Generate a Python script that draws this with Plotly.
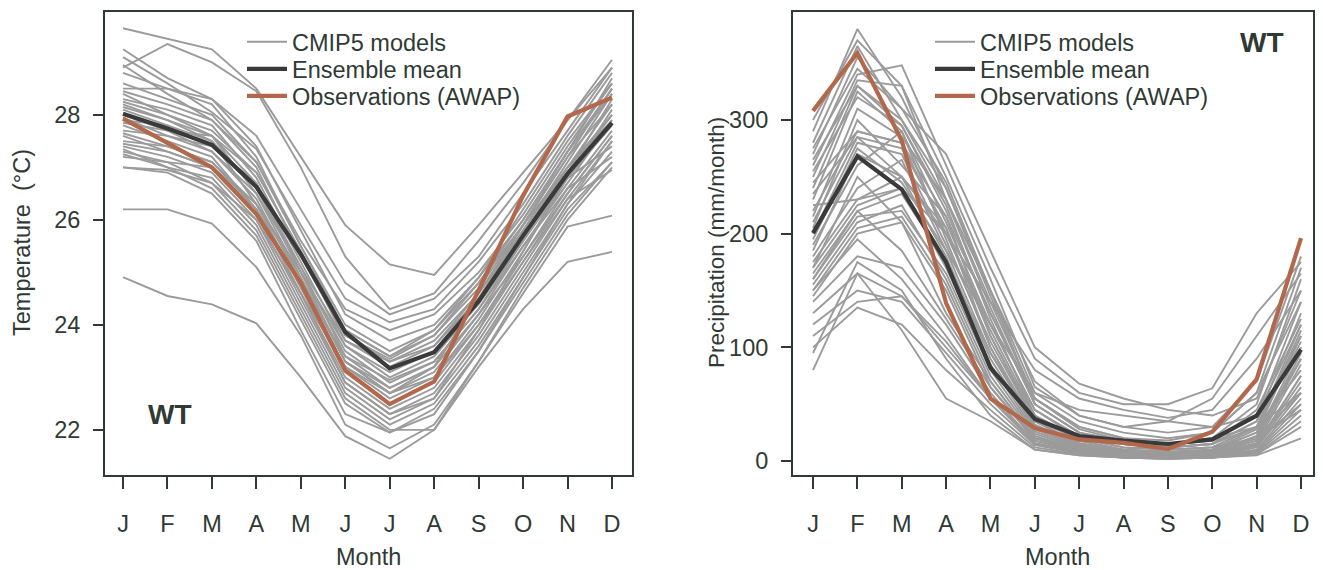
import plotly.graph_objects as go

month_idx = list(range(1, 13))
month_labels = ["J", "F", "M", "A", "M", "J", "J", "A", "S", "O", "N", "D"]

# ---- Temperature (deg C) ----
temp_models = [
    [29.65, 29.45, 29.25, 28.5, 27.2, 25.9, 25.15, 24.95, 25.9, 26.9, 27.9, 28.9],
    [28.9, 29.35, 29.0, 28.45, 27.0, 25.3, 24.3, 24.6, 25.6, 26.7, 27.9, 29.05],
    [29.25, 28.7, 28.3, 27.6, 26.2, 24.8, 24.2, 24.5, 25.3, 26.5, 27.7, 28.9],
    [29.1, 28.6, 28.05, 27.35, 25.9, 24.5, 24.05, 24.3, 25.2, 26.3, 27.6, 28.8],
    [28.95, 28.4, 27.9, 27.1, 25.6, 24.3, 23.9, 24.2, 25.0, 26.1, 27.4, 28.6],
    [28.8, 28.5, 28.3, 27.4, 25.8, 24.2, 23.7, 24.0, 24.9, 26.0, 27.3, 28.7],
    [28.5, 28.5, 28.2, 27.2, 25.5, 24.0, 23.5, 23.9, 24.8, 25.9, 27.2, 28.5],
    [28.45, 28.2, 27.9, 27.0, 25.3, 23.8, 23.3, 23.7, 24.6, 25.8, 27.1, 28.4],
    [28.4, 28.0, 27.7, 26.9, 25.4, 23.7, 23.2, 23.6, 24.5, 25.7, 27.0, 28.2],
    [28.3, 28.1, 27.8, 26.8, 25.2, 23.6, 23.0, 23.4, 24.4, 25.6, 26.9, 28.3],
    [28.2, 27.9, 27.5, 26.6, 25.0, 23.5, 22.9, 23.3, 24.3, 25.6, 26.8, 28.1],
    [28.1, 27.8, 27.4, 26.7, 25.1, 23.4, 22.8, 23.2, 24.5, 25.8, 27.0, 28.0],
    [28.0, 27.7, 27.6, 26.5, 24.9, 23.3, 22.7, 23.1, 24.2, 25.5, 26.7, 27.9],
    [27.95, 27.6, 27.3, 26.4, 24.8, 23.2, 22.6, 23.0, 24.1, 25.4, 26.8, 27.8],
    [27.9, 27.8, 27.5, 26.3, 24.7, 23.1, 22.5, 22.9, 24.0, 25.3, 26.6, 27.7],
    [27.8, 27.5, 27.2, 26.2, 24.6, 23.0, 22.4, 22.8, 23.9, 25.2, 26.5, 27.6],
    [27.7, 27.6, 27.4, 26.6, 25.3, 23.9, 23.4, 23.8, 24.7, 25.9, 27.0, 27.9],
    [27.6, 27.3, 27.0, 26.1, 24.5, 22.9, 22.3, 22.7, 23.8, 25.1, 26.4, 27.5],
    [27.5, 27.4, 27.1, 26.3, 25.0, 23.6, 23.1, 23.5, 24.4, 25.6, 26.8, 27.4],
    [27.4, 27.2, 26.9, 26.0, 24.4, 22.8, 22.2, 22.6, 23.7, 25.0, 26.3, 27.3],
    [27.3, 27.1, 27.0, 26.2, 24.8, 23.4, 22.95, 23.3, 24.3, 25.5, 26.6, 27.2],
    [27.25, 27.0, 26.8, 25.9, 24.3, 22.7, 22.1, 22.5, 23.6, 24.9, 26.2, 27.1],
    [27.2, 27.1, 26.7, 25.8, 24.2, 22.6, 22.0, 22.0, 23.3, 24.7, 26.0, 27.0],
    [27.0, 26.95, 26.7, 26.0, 24.6, 23.2, 22.7, 23.0, 24.0, 25.2, 26.4, 26.95],
    [27.0, 26.9, 26.5, 25.6, 23.9, 22.3, 21.95, 22.4, 23.5, 24.8, 26.1, 27.1],
    [26.2, 26.2, 25.93, 25.1, 23.8, 22.1, 21.65, 22.1, 23.3, 24.6, 25.87, 26.08],
    [24.91, 24.55, 24.39, 24.03, 23.0, 21.88, 21.45, 22.0, 23.2, 24.3, 25.2, 25.39],
    [28.6, 28.3, 28.0, 27.1, 25.5, 23.9, 23.4, 23.9, 24.9, 26.2, 27.5, 28.6],
    [28.25, 28.0, 27.6, 26.7, 25.0, 23.3, 22.7, 23.2, 24.5, 25.9, 27.3, 28.5],
    [27.85, 27.7, 27.3, 26.5, 25.1, 23.7, 23.3, 23.6, 24.6, 25.9, 27.2, 28.2],
    [27.65, 27.4, 27.1, 26.2, 24.6, 22.9, 22.3, 22.6, 23.9, 25.4, 26.9, 28.0],
    [27.45, 27.3, 27.0, 26.3, 24.9, 23.3, 22.8, 23.2, 24.2, 25.3, 26.5, 27.6],
    [28.15, 27.9, 27.6, 26.9, 25.4, 23.8, 23.35, 23.8, 24.8, 26.0, 27.3, 28.4],
    [27.35, 27.0, 26.6, 25.7, 24.1, 22.5, 21.95, 22.3, 23.5, 24.9, 26.3, 27.5],
]
temp_mean = [28.02, 27.74, 27.43, 26.63, 25.35, 23.86, 23.17, 23.48, 24.45, 25.7, 26.88, 27.85]
temp_obs = [27.93, 27.47, 27.0, 26.11, 24.8, 23.13, 22.49, 22.92, 24.66, 26.46, 27.97, 28.33]

# ---- Precipitation (mm/month) ----
prcp_models = [
    [290, 380, 320, 240, 150, 60, 35, 25, 20, 25, 60, 170],
    [300, 370, 330, 250, 160, 65, 40, 30, 25, 30, 70, 180],
    [280, 365, 300, 230, 140, 55, 30, 20, 15, 20, 50, 160],
    [270, 355, 310, 270, 185, 100, 68, 55, 45, 40, 55, 150],
    [260, 340, 348, 260, 170, 90, 60, 50, 50, 64, 130, 175],
    [250, 335, 330, 230, 150, 70, 40, 30, 35, 55, 110, 165],
    [240, 330, 295, 220, 130, 50, 25, 18, 15, 18, 40, 140],
    [230, 325, 290, 210, 120, 45, 22, 15, 12, 15, 35, 130],
    [220, 290, 280, 200, 115, 40, 20, 12, 10, 12, 30, 120],
    [210, 285, 275, 205, 110, 38, 18, 10, 8, 10, 28, 115],
    [200, 280, 270, 190, 105, 35, 16, 9, 7, 9, 25, 110],
    [190, 260, 290, 195, 100, 32, 15, 8, 6, 8, 22, 100],
    [180, 240, 265, 185, 95, 30, 14, 7, 5, 7, 20, 95],
    [175, 230, 250, 180, 90, 28, 13, 7, 5, 6, 18, 90],
    [170, 225, 240, 170, 85, 26, 12, 6, 5, 6, 16, 85],
    [165, 220, 235, 175, 95, 35, 20, 15, 12, 15, 30, 80],
    [160, 215, 220, 165, 80, 24, 11, 6, 4, 5, 15, 75],
    [155, 210, 225, 160, 75, 22, 10, 5, 4, 5, 14, 70],
    [150, 205, 215, 155, 70, 20, 9, 5, 4, 5, 13, 65],
    [145, 200, 210, 150, 65, 18, 8, 4, 3, 4, 12, 60],
    [140, 180, 170, 120, 60, 16, 8, 4, 3, 4, 10, 55],
    [130, 165, 145, 100, 55, 15, 7, 4, 3, 4, 9, 50],
    [120, 150, 140, 95, 50, 14, 7, 3, 3, 3, 8, 45],
    [110, 140, 145, 105, 55, 15, 7, 3, 3, 3, 7, 40],
    [100, 135, 120, 80, 45, 12, 6, 3, 2, 3, 6, 35],
    [95, 175, 150, 90, 40, 10, 5, 3, 2, 3, 6, 30],
    [80, 165, 115, 55, 35, 10, 5, 3, 2, 3, 5, 20],
    [185, 270, 250, 200, 140, 80, 55, 45, 38, 45, 90, 150],
    [195, 275, 245, 185, 120, 60, 45, 40, 35, 30, 40, 100],
    [205, 300, 260, 215, 130, 55, 30, 20, 18, 25, 60, 140],
    [215, 310, 285, 230, 135, 50, 25, 15, 12, 15, 45, 125],
    [225, 230, 240, 200, 120, 45, 20, 12, 10, 12, 30, 105],
    [235, 285, 250, 205, 100, 30, 15, 10, 8, 10, 20, 60],
    [245, 290, 280, 215, 110, 35, 15, 8, 6, 8, 18, 50],
    [255, 320, 295, 225, 125, 40, 18, 10, 8, 10, 25, 90],
    [265, 330, 300, 240, 145, 55, 28, 18, 14, 18, 40, 120],
    [275, 345, 310, 245, 150, 50, 25, 15, 12, 15, 35, 110],
    [170, 250, 210, 130, 70, 20, 10, 6, 5, 6, 14, 75],
    [160, 220, 185, 125, 65, 20, 12, 10, 15, 20, 30, 60],
    [150, 195, 160, 110, 55, 18, 10, 8, 10, 12, 20, 45],
]
prcp_mean = [200.5, 268, 239, 175, 82, 37, 22, 18, 15, 19, 40, 98]
prcp_obs = [308, 359, 282, 139, 55, 29, 19, 16, 10.6, 25.7, 72, 196]

series_names = ["CMIP5 models", "Ensemble mean", "Observations (AWAP)"]
panel_label = "WT"

TXT = "#2f3a35"
GRAY = "#9b9b9b"
MEANC = "#3a3a3a"
OBSC = "#b3684b"
FONT = "Liberation Sans, Arial, sans-serif"
FS = 23.5

fig = go.Figure()

def add_panel(models, mean, obs, xa, ya, legs):
    for i, m in enumerate(models):
        fig.add_trace(go.Scatter(x=month_idx, y=m, mode="lines",
                                 line=dict(color=GRAY, width=1.9),
                                 name=series_names[0], legendgroup=legs[0],
                                 showlegend=(i == 0), legend=legs[0],
                                 xaxis=xa, yaxis=ya, hoverinfo="skip"))
    fig.add_trace(go.Scatter(x=month_idx, y=mean, mode="lines",
                             line=dict(color=MEANC, width=4.2),
                             name=series_names[1], legend=legs[1],
                             xaxis=xa, yaxis=ya))
    fig.add_trace(go.Scatter(x=month_idx, y=obs, mode="lines",
                             line=dict(color=OBSC, width=4.2),
                             name=series_names[2], legend=legs[2],
                             xaxis=xa, yaxis=ya))

add_panel(temp_models, temp_mean, temp_obs, "x", "y", ["legend", "legend2", "legend3"])
add_panel(prcp_models, prcp_mean, prcp_obs, "x2", "y2", ["legend4", "legend5", "legend6"])

W, H = 1323, 570
def px(v):
    return v / W
def py(v):
    return 1 - v / H

common_x = dict(showline=True, mirror=True, linecolor=TXT, linewidth=2,
                ticks="outside", ticklen=12, tickwidth=2, tickcolor=TXT,
                tickvals=month_idx, ticktext=month_labels,
                tickfont=dict(size=FS, color=TXT, family=FONT),
                showgrid=False, zeroline=False, ticklabelstandoff=15)
common_y = dict(showline=True, mirror=True, linecolor=TXT, linewidth=2,
                ticks="outside", ticklen=10, tickwidth=2, tickcolor=TXT,
                tickfont=dict(size=FS, color=TXT, family=FONT),
                showgrid=False, zeroline=False, ticklabelstandoff=8)

legend_common = dict(bgcolor="rgba(0,0,0,0)", borderwidth=0,
                     font=dict(size=FS, color=TXT, family=FONT),
                     xanchor="left", yanchor="middle", itemwidth=40)

rows = [42, 69, 96]
legends = {}
for k, r in enumerate(rows):
    legends["legend" if k == 0 else "legend%d" % (k + 1)] = dict(x=px(242), y=py(r), **legend_common)
    legends["legend%d" % (k + 4)] = dict(x=px(930), y=py(r), **legend_common)

fig.update_layout(
    width=W, height=H,
    margin=dict(l=0, r=0, t=0, b=0),
    paper_bgcolor="white", plot_bgcolor="white",
    font=dict(family=FONT, color=TXT),
    xaxis=dict(domain=[px(105), px(632)], range=[0.595, 12.45], anchor="y", **common_x),
    yaxis=dict(domain=[py(475), py(12)], range=[21.14, 29.96], anchor="x",
               tickvals=[22, 24, 26, 28], **common_y),
    xaxis2=dict(domain=[px(793), px(1313)], range=[0.549, 12.27], anchor="y2", **common_x),
    yaxis2=dict(domain=[py(475), py(12)], range=[-12.3, 395], anchor="x2",
                tickvals=[0, 100, 200, 300], **common_y),
    annotations=[
        dict(text="Month", x=px(368), y=py(557), xref="paper", yref="paper",
             showarrow=False, font=dict(size=FS, color=TXT, family=FONT),
             xanchor="center", yanchor="middle"),
        dict(text="Month", x=px(1057), y=py(557), xref="paper", yref="paper",
             showarrow=False, font=dict(size=FS, color=TXT, family=FONT),
             xanchor="center", yanchor="middle"),
        dict(text="Temperature  (°C)", x=px(22), y=py(243), xref="paper", yref="paper",
             showarrow=False, textangle=-90, font=dict(size=FS, color=TXT, family=FONT),
             xanchor="center", yanchor="middle"),
        dict(text="Precipitation (mm/month)", x=px(716), y=py(243), xref="paper", yref="paper",
             showarrow=False, textangle=-90, font=dict(size=FS - 1, color=TXT, family=FONT),
             xanchor="center", yanchor="middle"),
        dict(text="<b>" + panel_label + "</b>", x=0.123, y=0.1296, xref="x domain", yref="y domain",
             showarrow=False, font=dict(size=28, color=TXT, family=FONT),
             xanchor="center", yanchor="middle"),
        dict(text="<b>" + panel_label + "</b>", x=0.902, y=0.935, xref="x2 domain", yref="y2 domain",
             showarrow=False, font=dict(size=28, color=TXT, family=FONT),
             xanchor="center", yanchor="middle"),
    ],
    **legends,
)

fig.write_html("out.html")
